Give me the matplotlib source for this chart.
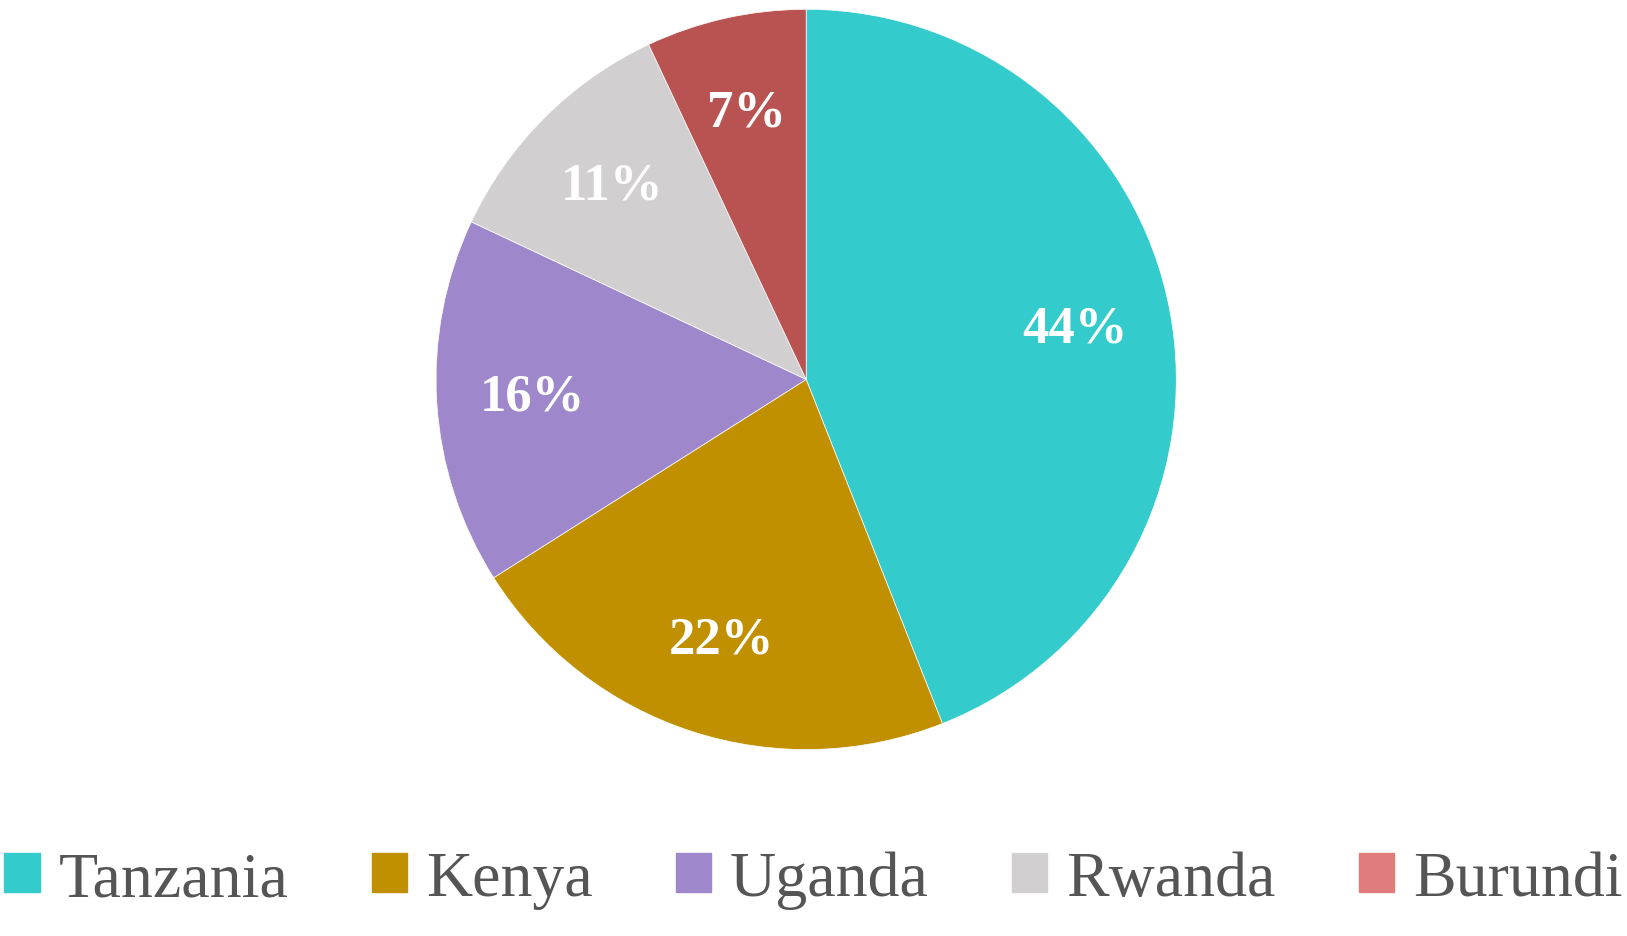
import matplotlib.pyplot as plt
from matplotlib.patches import Patch

countries = ["Tanzania", "Kenya", "Uganda", "Rwanda", "Burundi"]
shares = [44, 22, 16, 11, 7]
colors = ["#33CBCC", "#C09000", "#9E88CB", "#D1CFD0", "#B85352"]
legend_colors = ["#33CBCC", "#C09000", "#9E88CB", "#D1CFD0", "#E07C7C"]

plt.rcParams['font.family'] = ['Liberation Serif', 'DejaVu Serif']

fig = plt.figure(figsize=(16.27, 9.37), dpi=100)
ax = fig.add_axes([0.268, 0.199, 0.455, 0.79])
wedges, texts, autotexts = ax.pie(
    shares, colors=colors, startangle=90, counterclock=False,
    autopct='%d%%', pctdistance=0.74,
    wedgeprops=dict(edgecolor='white', linewidth=0.5),
    textprops=dict(color='white', fontsize=38, fontweight='bold'))
ax.set_xlim(-1.0, 1.0)
ax.set_ylim(-1.0, 1.0)
ax.set_aspect('equal')

handles = [Patch(color=c) for c in legend_colors]
fig.legend(handles, countries, loc='center', bbox_to_anchor=(0.5, 0.06),
           ncol=5, frameon=False, fontsize=46, labelcolor='#555555',
           handlelength=0.55, handleheight=0.55, handletextpad=0.3,
           columnspacing=1.3)

fig.savefig("out.png", dpi=100)
